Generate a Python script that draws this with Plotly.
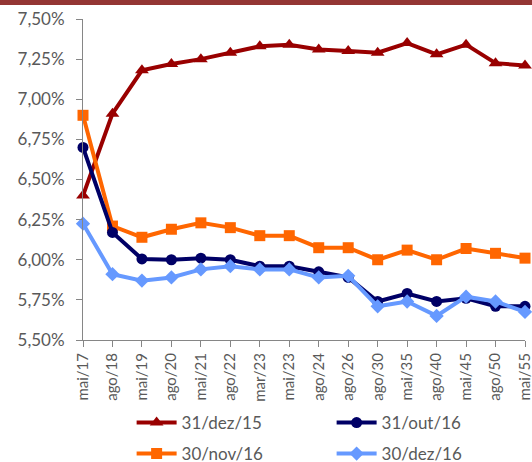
import plotly.graph_objects as go

categories = ["mai/17", "ago/18", "mai/19", "ago/20", "mai/21", "ago/22", "mar/23", "mai/23",
              "ago/24", "ago/26", "ago/30", "mai/35", "ago/40", "mai/45", "ago/50", "mai/55"]

dez15 = [6.40, 6.91, 7.18, 7.22, 7.25, 7.29, 7.33, 7.34, 7.31, 7.30, 7.29, 7.35, 7.28, 7.34, 7.225, 7.21]
out16 = [6.70, 6.17, 6.005, 6.00, 6.01, 6.00, 5.96, 5.96, 5.925, 5.89, 5.74, 5.79, 5.74, 5.76, 5.71, 5.71]
nov16 = [6.90, 6.21, 6.14, 6.19, 6.23, 6.20, 6.15, 6.15, 6.075, 6.075, 6.00, 6.06, 6.00, 6.07, 6.04, 6.01]
dez16 = [6.225, 5.91, 5.87, 5.89, 5.94, 5.96, 5.94, 5.94, 5.89, 5.90, 5.71, 5.74, 5.65, 5.77, 5.74, 5.675]

y_ticks = [5.50, 5.75, 6.00, 6.25, 6.50, 6.75, 7.00, 7.25, 7.50]
y_tick_labels = ["5,50%", "5,75%", "6,00%", "6,25%", "6,50%", "6,75%", "7,00%", "7,25%", "7,50%"]

# name, values, color, symbol, size, legend (row), rank
series = [
    ("31/dez/15", dez15, "#990000", "triangle-up", 12, "legend", 1),
    ("30/nov/16", nov16, "#FF6600", "square", 11, "legend2", 1),
    ("31/out/16", out16, "#000066", "circle", 11, "legend", 2),
    ("30/dez/16", dez16, "#6699FF", "diamond", 11, "legend2", 2),
]

fig = go.Figure()
for name, vals, color, sym, size, leg, rank in series:
    fig.add_trace(go.Scatter(
        x=categories, y=vals, name=name, mode="lines+markers",
        line=dict(color=color, width=4),
        marker=dict(symbol=sym, size=size, color=color),
        cliponaxis=False, legend=leg, legendrank=rank,
    ))

fig.add_shape(type="rect", xref="paper", yref="paper",
              x0=-0.3, x1=1.1, y0=1 + 14 / 321, y1=1 + 19 / 321,
              fillcolor="#943634", line=dict(width=0), layer="above")

legend_common = dict(orientation="h", xanchor="left", yanchor="middle",
                     entrywidth=145, itemwidth=40,
                     font=dict(size=17, color="#595959"),
                     traceorder="normal", bgcolor="rgba(0,0,0,0)")

fig.update_layout(
    width=532, height=462,
    margin=dict(l=83, r=7, t=19, b=122, autoexpand=False),
    paper_bgcolor="white", plot_bgcolor="white",
    font=dict(family="Lato, Open Sans, sans-serif", color="#595959"),
    showlegend=True,
    legend=dict(x=0.11, y=(340 - 423) / 321, **legend_common),
    legend2=dict(x=0.11, y=(340 - 454) / 321, **legend_common),
    xaxis=dict(type="category", range=[0, len(categories) - 1], showgrid=False,
               showline=True, linecolor="#868686", linewidth=1, automargin=False,
               ticks="outside", ticklen=6, tickcolor="#868686",
               tickangle=-90, tickfont=dict(size=15, color="#595959")),
    yaxis=dict(range=[5.5, 7.5], tickvals=y_ticks, ticktext=y_tick_labels,
               showgrid=False, zeroline=False, showline=True, linecolor="#868686", linewidth=1,
               ticks="outside", ticklen=6, tickcolor="#868686", automargin=False,
               ticklabelstandoff=8,
               tickfont=dict(size=17, color="#595959")),
)

fig.write_html("out.html", config={"displayModeBar": False},
               post_script="document.body.style.margin='0px';")
